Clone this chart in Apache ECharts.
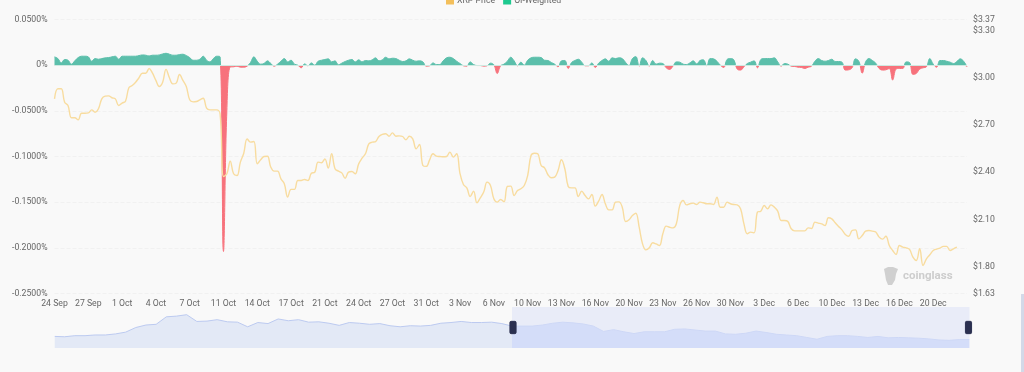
<!DOCTYPE html>
<html><head><meta charset="utf-8">
<style>html,body{margin:0;padding:0;background:#f9f9f9}#c{width:1024px;height:372px}</style>
<script src="https://cdn.jsdelivr.net/npm/echarts@6/dist/echarts.min.js"></script>
</head><body><div id="c"></div>
<script>
const dayLabels = ['24 Sep','25 Sep','26 Sep','27 Sep','28 Sep','29 Sep','30 Sep','1 Oct','2 Oct','3 Oct','4 Oct','5 Oct','6 Oct','7 Oct','8 Oct','9 Oct','10 Oct','11 Oct','12 Oct','13 Oct','14 Oct','15 Oct','16 Oct','17 Oct','18 Oct','19 Oct','20 Oct','21 Oct','22 Oct','23 Oct','24 Oct','25 Oct','26 Oct','27 Oct','28 Oct','29 Oct','30 Oct','31 Oct','1 Nov','2 Nov','3 Nov','4 Nov','5 Nov','6 Nov','7 Nov','8 Nov','9 Nov','10 Nov','11 Nov','12 Nov','13 Nov','14 Nov','15 Nov','16 Nov','17 Nov','18 Nov','19 Nov','20 Nov','21 Nov','22 Nov','23 Nov','24 Nov','25 Nov','26 Nov','27 Nov','28 Nov','29 Nov','30 Nov','1 Dec','2 Dec','3 Dec','4 Dec','5 Dec','6 Dec','7 Dec','8 Dec','9 Dec','10 Dec','11 Dec','12 Dec','13 Dec','14 Dec','15 Dec','16 Dec','17 Dec','18 Dec','19 Dec','20 Dec','21 Dec','22 Dec','23 Dec'];
const categories = dayLabels.flatMap(d => [d, d, d]).slice(1, 272);

const priceValues = [
2.866,2.930,2.930,2.845,2.824,2.746,2.746,2.733,2.775,2.775,2.777,2.796,2.781,2.803,2.866,2.883,2.885,2.873,2.866,2.824,
2.839,2.851,2.936,2.951,2.972,3.000,3.029,3.029,3.059,3.029,2.983,2.945,2.972,3.053,3.000,2.961,2.966,3.021,2.983,2.945,
2.860,2.847,2.849,2.860,2.870,2.807,2.796,2.796,2.796,2.771,2.373,2.390,2.470,2.390,2.379,2.464,2.521,2.612,2.591,2.595,
2.454,2.479,2.500,2.502,2.432,2.407,2.407,2.358,2.327,2.242,2.291,2.291,2.348,2.348,2.354,2.348,2.394,2.400,2.464,2.460,
2.485,2.426,2.517,2.422,2.407,2.396,2.362,2.401,2.405,2.390,2.453,2.489,2.517,2.580,2.591,2.595,2.627,2.640,2.644,2.629,
2.650,2.629,2.631,2.627,2.606,2.629,2.612,2.549,2.576,2.443,2.437,2.479,2.517,2.502,2.500,2.498,2.500,2.528,2.496,2.517,
2.390,2.322,2.301,2.246,2.280,2.206,2.238,2.274,2.337,2.316,2.231,2.210,2.227,2.212,2.310,2.312,2.252,2.284,2.295,2.316,
2.379,2.506,2.521,2.517,2.443,2.428,2.384,2.365,2.369,2.411,2.479,2.422,2.310,2.301,2.301,2.246,2.280,2.252,2.231,2.259,
2.185,2.216,2.259,2.199,2.161,2.161,2.210,2.212,2.178,2.087,2.098,2.125,2.140,2.051,1.945,1.907,1.920,1.952,1.945,1.935,
2.009,2.058,2.051,2.047,2.073,2.189,2.221,2.193,2.200,2.204,2.195,2.210,2.206,2.200,2.200,2.195,2.242,2.178,2.178,2.210,
2.200,2.195,2.193,2.168,2.072,2.009,2.020,2.015,2.147,2.153,2.189,2.168,2.193,2.178,2.153,2.094,2.094,2.087,2.041,2.028,
2.028,2.028,2.028,2.047,2.043,2.083,2.077,2.072,2.062,2.111,2.104,2.079,2.056,2.034,2.005,1.994,2.030,2.034,1.977,1.998,
2.026,2.030,2.026,2.020,1.988,1.975,1.994,1.935,1.903,1.878,1.935,1.924,1.920,1.910,1.861,1.840,1.914,1.808,1.850,1.876,
1.903,1.912,1.918,1.929,1.929,1.903,1.914,1.924];

const fundingValues = [
.0091,.0072,.0025,.0062,.0054,.0011,.0047,.0083,.0098,.0098,.0091,.0043,.0072,.0065,.0072,.0080,.0083,.0091,.0098,.0065,
.0098,.0098,.0098,.0098,.0098,.0105,.0112,.0109,.0101,.0109,.0109,.0112,.0123,.0130,.0120,.0109,.0109,.0116,.0120,.0105,
.0083,.0054,.0054,.0065,.0098,.0054,.0036,.0072,.0098,.0091,-.2040,-.0500,-.0020,-.0018,-.0011,-.0022,-.0022,-.0011,.0029,.0091,
.0043,.0011,.0018,.0047,.0018,-.0011,.0011,.0043,.0072,.0036,.0054,.0011,0,-.0029,.0014,-.0007,.0025,0,.0043,.0054,
.0062,.0069,.0036,.0047,.0004,.0022,.0040,.0054,.0062,.0036,.0058,.0036,.0051,.0047,.0058,.0080,.0047,.0058,.0087,.0069,
.0076,.0072,.0054,.0040,.0047,.0069,.0054,.0043,.0047,.0036,-.0011,-.0007,.0025,.0007,.0007,.0047,.0080,.0087,.0072,.0043,
.0018,-.0007,-.0011,.0036,.0007,-.0004,-.0004,-.0011,-.0007,.0022,.0004,-.0091,-.0007,.0011,.0043,.0087,.0047,-.0007,.0033,0,
.0054,.0080,.0087,.0087,.0083,.0054,.0051,.0029,.0011,-.0018,.0047,.0051,-.0036,.0029,.0051,.0065,.0033,-.0007,-.0007,.0025,
-.0025,.0022,.0051,.0069,.0043,.0080,.0072,.0080,.0072,.0029,-.0004,.0072,.0094,-.0011,.0080,.0051,-.0011,.0051,.0011,.0022,
.0018,-.0029,-.0047,-.0011,.0036,.0033,.0011,.0007,.0025,.0047,.0014,.0051,.0058,-.0007,.0072,.0069,.0043,0,-.0025,.0062,
.0072,.0058,-.0043,-.0054,-.0018,.0018,.0033,.0047,-.0029,.0062,.0072,.0072,.0072,.0080,.0036,-.0011,.0018,.0011,-.0011,-.0014,
-.0022,-.0025,-.0036,-.0022,-.0011,.0043,.0072,.0051,.0043,.0051,.0065,.0040,.0040,.0033,-.0054,-.0051,-.0029,.0069,.0043,-.0087,
.0036,.0072,.0051,.0022,-.0036,-.0054,-.0051,-.0036,-.0163,-.0043,-.0036,-.0036,.0036,.0029,-.0101,-.0091,-.0043,-.0029,-.0018,.0072,
.0011,-.0022,.0051,.0051,.0043,.0033,.0018,.0040,.0069,.0043,-.0018];

const overviewValues = [33,32,35,35,37,37,40,45,58,65,67,88,90,94,75,76,80,74,73,60,72,69,82,77,80,73,74,70,64,72,70,67,69,63,60,63,62,64,70,72,75,72,72,73,69,62,62,
62,65,70,73,71,68,62,47,52,46,41,46,46,46,53,54,51,48,48,40,39,42,48,44,39,37,35,30,25,33,35,35,33,30,33,29,30,29,28,26,23,22,24,24];
const overviewCategories = overviewValues.map((_, i) => categories[Math.min(i * 3, categories.length - 1)]);

const priceTicks = [1.63, 1.8, 2.1, 2.4, 2.7, 3.0, 3.3, 3.37];
const fundingMin = -0.25, fundingMax = 0.05, fundingStep = 0.05;
const seriesNames = ['XRP Price', 'OI-Weighted'];
const font = 'Roboto, "Noto Sans", sans-serif';
const textColor = '#666';
const fs = 8.7;

const zeroOffset = fundingMax / (fundingMax - fundingMin);
const signFill = {type: 'linear', global: true, x: 0, y: 19.5, x2: 0, y2: 293.5, colorStops: [
  {offset: 0, color: '#5cbfab'}, {offset: zeroOffset, color: '#5cbfab'},
  {offset: zeroOffset, color: '#f7727c'}, {offset: 1, color: '#f7727c'}]};

const chart = echarts.init(document.getElementById('c'), null, {renderer: 'canvas'});
chart.setOption({
  animation: false,
  backgroundColor: '#f9f9f9',
  textStyle: {fontFamily: font},
  legend: {
    left: 446, top: -4, padding: 0, itemWidth: 8, itemHeight: 8, itemGap: 8, icon: 'rect', selectedMode: false,
    textStyle: {fontSize: fs, color: textColor, fontFamily: font, padding: [0,0,0,-2]},
    data: [
      {name: seriesNames[0], itemStyle: {color: '#f3bf5b'}},
      {name: seriesNames[1], itemStyle: {color: '#1ec98f'}}
    ]
  },
  grid: [
    {left: 54.5, right: 57, top: 19.5, bottom: 78.5},
    {left: 54.5, right: 57, top: 307, height: 41, show: false}
  ],
  xAxis: [
    {type: 'category', gridIndex: 0, data: categories, boundaryGap: false,
     axisLine: {show: false}, axisTick: {show: false}, splitLine: {show: false},
     axisLabel: {interval: i => i % 10 === 0 && i < 270, margin: 5.5, fontSize: fs, color: textColor, fontFamily: font, hideOverlap: false}},
    {type: 'category', gridIndex: 1, data: overviewCategories, boundaryGap: false, show: false}
  ],
  yAxis: [
    {type: 'value', gridIndex: 0, min: fundingMin, max: fundingMax, interval: fundingStep,
     axisLine: {show: false}, axisTick: {show: false},
     splitLine: {show: true, lineStyle: {color: '#f1f1f1', type: 'dashed', width: 1}},
     axisLabel: {margin: 7, fontSize: fs, color: textColor, fontFamily: font, padding: [1,0,0,0],
       formatter: v => Math.abs(v) < 1e-9 ? '0%' : v.toFixed(4) + '%'}},
    {type: 'value', gridIndex: 0, position: 'right', min: 1.63, max: 3.37,
     axisLine: {show: false}, axisTick: {show: false}, splitLine: {show: false},
     axisLabel: {customValues: priceTicks, margin: 6, fontSize: fs, color: textColor, fontFamily: font, padding: [1,0,0,0],
       formatter: v => '$' + v.toFixed(2)}},
    {type: 'value', gridIndex: 1, show: false, scale: true}
  ],
  dataZoom: [{
    type: 'slider', xAxisIndex: 1, filterMode: 'none', start: 50, end: 100,
    left: 52, right: 57, top: 307, height: 41,
    showDetail: false, brushSelect: false, moveHandleSize: 0,
    borderColor: 'transparent', backgroundColor: 'transparent', borderRadius: 0,
    fillerColor: 'rgba(211,220,248,0.42)',
    handleIcon: 'path://M2,0 L8,0 Q10,0 10,2 L10,18 Q10,20 8,20 L2,20 Q0,20 0,18 L0,2 Q0,0 2,0 Z',
    handleSize: '30%',
    handleStyle: {color: '#2b3050', borderColor: '#2b3050'},
    dataBackground: {lineStyle: {color: '#bccaf0', width: 1, opacity: 1}, areaStyle: {color: '#e3e9f6', opacity: 1}},
    selectedDataBackground: {lineStyle: {color: '#c9d5f5', width: 1, opacity: 1}, areaStyle: {color: '#d5dffa', opacity: 1}}
  }],
  series: [
    {name: seriesNames[0], type: 'line', xAxisIndex: 0, yAxisIndex: 1, data: priceValues, smooth: 0.4, showSymbol: false, silent: true, z: 3,
     lineStyle: {color: '#f8dc9f', width: 1.4}, itemStyle: {color: '#f3bf5b'}},
    {name: seriesNames[1], type: 'line', xAxisIndex: 0, yAxisIndex: 0, data: fundingValues, smooth: 0.4, showSymbol: false, silent: true, z: 2,
     lineStyle: {width: 1, color: signFill}, areaStyle: {opacity: 1, origin: 0, color: signFill}, itemStyle: {color: '#1ec98f'},
     markLine: {silent: true, symbol: 'none', label: {show: false}, animation: false, z: 4,
       lineStyle: {color: '#cfe9e1', width: 1, type: 'solid'}, data: [{yAxis: 0}]}},
    {name: 'overview', type: 'line', xAxisIndex: 1, yAxisIndex: 2, data: overviewValues, showSymbol: false, silent: true,
     lineStyle: {opacity: 0}, itemStyle: {opacity: 0}}
  ],
  graphic: [
    {type: 'rect', silent: true, shape: {x: 1021, y: 294, width: 3, height: 78}, style: {fill: '#d3d9e8'}},
    {type: 'polygon', silent: true, shape: {points: [[884,269],[888,267],[893,267],[898,269],[896,274],[895,280],[892,285],[888,285],[886,280],[885,274]]}, style: {fill: '#d0d0d0'}},
    {type: 'text', silent: true, style: {x: 903, y: 276, text: 'coinglass', fill: '#cdcdcd', font: 'bold 11.5px ' + font, textVerticalAlign: 'middle'}}
  ]
});
</script></body></html>
